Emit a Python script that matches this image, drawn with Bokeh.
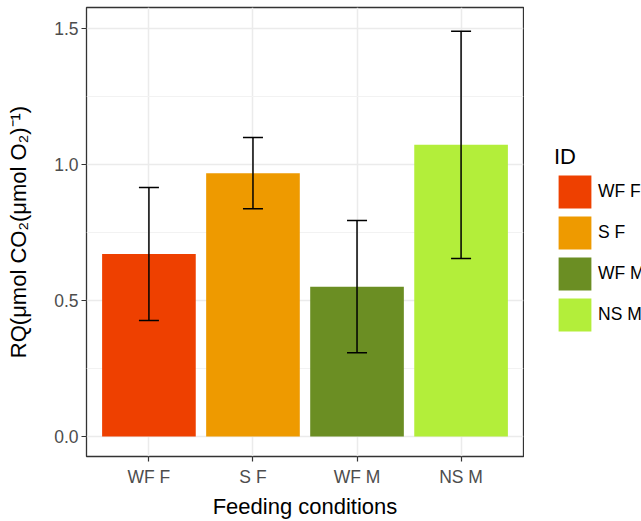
from bokeh.plotting import figure
from bokeh.layouts import row
from bokeh.models import (ColumnDataSource, FactorRange, Range1d, FixedTicker,
                          Whisker, TeeHead, Legend, LegendItem)
from bokeh.embed import file_html
from bokeh.resources import INLINE

# Respiratory quotient per feeding condition (mean +/- error)
conditions = ["WF F", "S F", "WF M", "NS M"]
rq_mean = [0.670, 0.967, 0.550, 1.071]
rq_err = [0.244, 0.131, 0.243, 0.417]
bar_colors = ["#EE4000", "#EE9A00", "#6B8E23", "#B3EE3A"]
y_ticks = [0.0, 0.5, 1.0, 1.5]
y_minor = [0.25, 0.75, 1.25]

FONT = "Liberation Sans"

source = ColumnDataSource(dict(
    cond=conditions,
    rq=rq_mean,
    lower=[m - e for m, e in zip(rq_mean, rq_err)],
    upper=[m + e for m, e in zip(rq_mean, rq_err)],
    color=bar_colors,
))

p = figure(
    x_range=FactorRange(factors=conditions, range_padding=0.05),
    y_range=Range1d(-0.0737, 1.5755),
    width=524, height=521,
    min_border_left=86, min_border_right=1,
    min_border_top=7, min_border_bottom=65,
    output_backend="svg", toolbar_location=None,
)
p.background_fill_color = "white"
p.border_fill_color = "white"
p.outline_line_color = "#333333"
p.outline_line_width = 1.3

bars = p.vbar(x="cond", top="rq", bottom=0, width=0.9, source=source,
              fill_color="color", line_color=None)

whisker = Whisker(base="cond", lower="lower", upper="upper", source=source,
                  level="annotation",
                  line_color="black", line_width=1.5,
                  upper_head=TeeHead(size=20, line_color="black", line_width=1.5),
                  lower_head=TeeHead(size=20, line_color="black", line_width=1.5))
p.add_layout(whisker)

# grid
p.xgrid.grid_line_color = "#EBEBEB"
p.xgrid.grid_line_width = 1.5
p.ygrid.grid_line_color = "#EBEBEB"
p.ygrid.grid_line_width = 1.5
p.ygrid.minor_grid_line_color = "#F2F2F2"
p.ygrid.minor_grid_line_width = 1.0
p.yaxis.ticker = FixedTicker(ticks=y_ticks, minor_ticks=y_minor)

# axes
for ax in (p.xaxis[0], p.yaxis[0]):
    ax.axis_line_color = None
    ax.major_tick_line_color = "#333333"
    ax.major_tick_line_width = 1.2
    ax.major_tick_out = 5
    ax.major_tick_in = 0
    ax.minor_tick_line_color = None
    ax.major_label_text_font = FONT
    ax.major_label_text_font_size = "17.5px"
    ax.major_label_text_color = "#4D4D4D"
    ax.axis_label_text_font = FONT
    ax.axis_label_text_font_size = "22px"
    ax.axis_label_text_font_style = "normal"
    ax.axis_label_text_color = "black"

p.yaxis.major_label_overrides = {0.0: "0.0", 0.5: "0.5", 1.0: "1.0", 1.5: "1.5"}
p.yaxis.major_label_standoff = 3
p.yaxis.axis_label = "RQ(\u03bcmol CO\u2082(\u03bcmol O\u2082)\u207b\u00b9)"
p.yaxis.axis_label_standoff = 20

p.xaxis.major_label_standoff = 5
p.xaxis.axis_label = "Feeding conditions"
p.xaxis.axis_label_standoff = 4

# legend panel on the right
lp = figure(
    x_range=Range1d(0, 1), y_range=Range1d(0, 1),
    width=117, height=521, min_border=0,
    x_axis_location=None, y_axis_location=None,
    output_backend="svg", toolbar_location=None,
)
lp.outline_line_color = None
lp.xgrid.visible = False
lp.ygrid.visible = False
lp.background_fill_color = "white"
lp.border_fill_color = "white"

key_source = ColumnDataSource(dict(cond=conditions, rq=rq_mean, color=bar_colors))
# keys drawn off-canvas; only their legend swatches show
keys = lp.vbar(x=5, top="rq", bottom=0, width=0.9, source=key_source,
               fill_color="color", line_color=None)

items = [LegendItem(label=c, renderers=[keys], index=i) for i, c in enumerate(conditions)]
legend = Legend(items=items, location=(30, 121), title="ID",
                title_text_font=FONT, title_text_font_size="22px",
                title_text_font_style="normal", title_text_color="black",
                title_standoff=1,
                label_text_font=FONT, label_text_font_size="17.5px",
                label_text_color="black", label_standoff=3,
                glyph_width=41, glyph_height=41, spacing=-6,
                padding=0, margin=0,
                border_line_color=None, background_fill_alpha=0)
lp.add_layout(legend, "center")

layout = row(p, lp, spacing=0)
open("out.html", "w").write(file_html(layout, INLINE))
